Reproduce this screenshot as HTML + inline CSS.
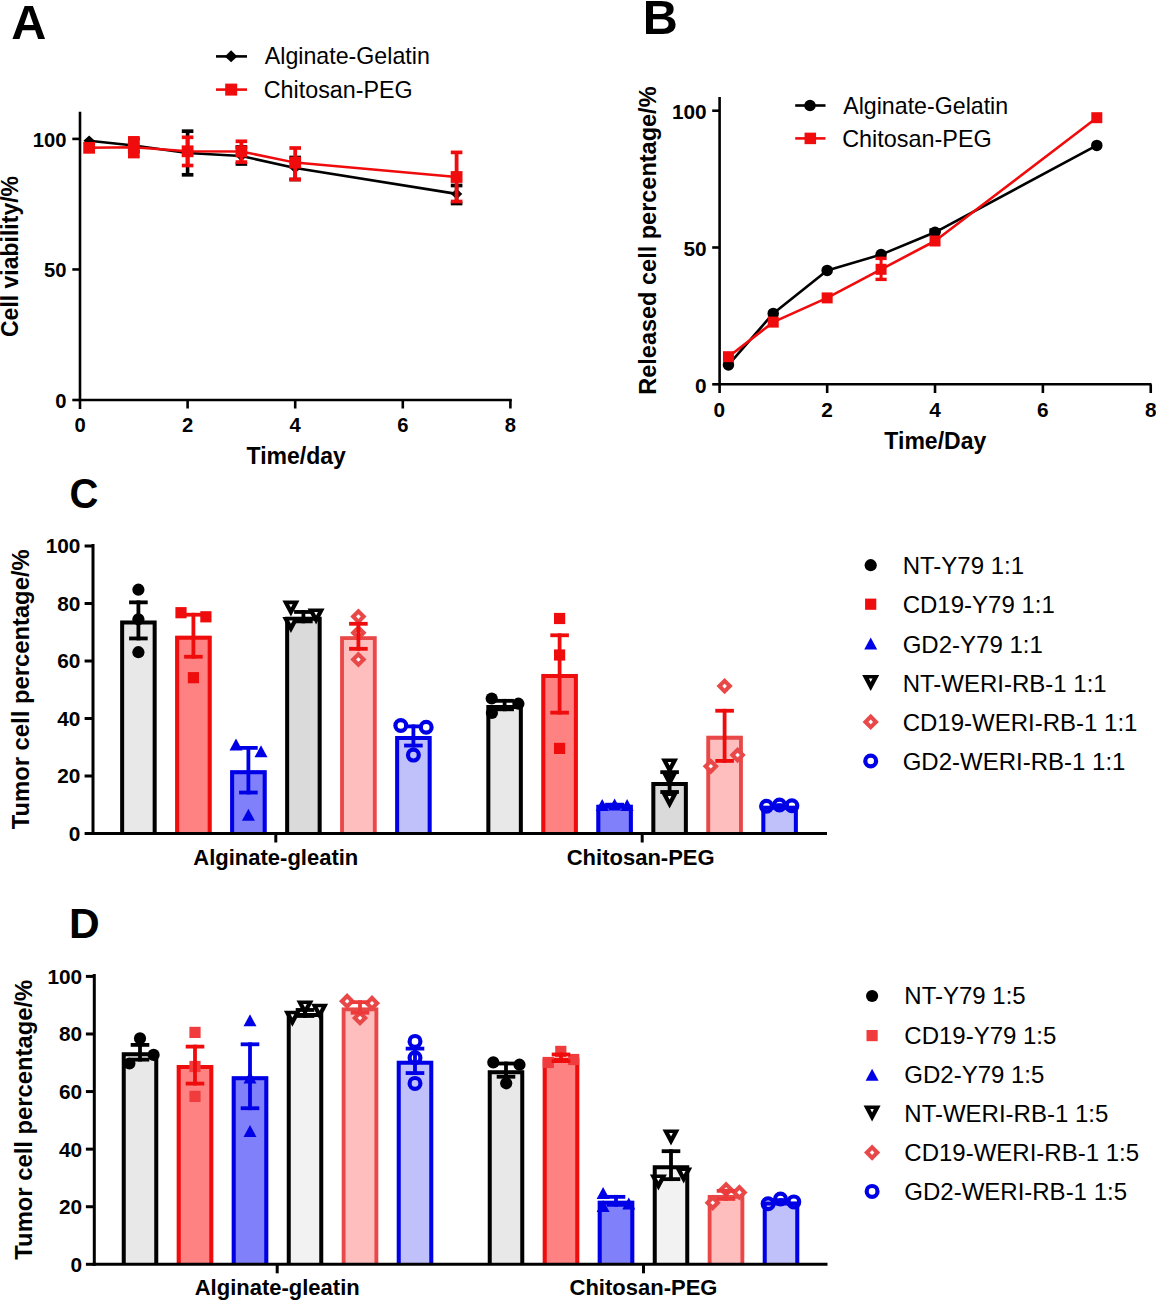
<!DOCTYPE html>
<html><head><meta charset="utf-8"><title>Figure</title>
<style>html,body{margin:0;padding:0;background:#fff;}svg{display:block;}text{font-family:"Liberation Sans",sans-serif;}</style>
</head><body>
<svg width="1156" height="1301" viewBox="0 0 1156 1301" font-family='"Liberation Sans", sans-serif'><text x="11.20" y="39.40" font-size="48.6" font-weight="bold" text-anchor="start" fill="#000">A</text>
<line x1="216.00" y1="56.40" x2="247.00" y2="56.40" stroke="#000" stroke-width="2.6" stroke-linecap="butt"/>
<polygon points="231.1,50.2 237.3,56.4 231.1,62.2 224.9,56.4" fill="#000"/>
<text x="264.80" y="64.30" font-size="23.2" font-weight="normal" text-anchor="start" fill="#000">Alginate-Gelatin</text>
<line x1="216.00" y1="89.60" x2="247.00" y2="89.60" stroke="#f00c0c" stroke-width="2.6" stroke-linecap="butt"/>
<rect x="225.20" y="83.60" width="12.00" height="12.00" fill="#f00c0c"/>
<text x="263.80" y="97.50" font-size="23.3" font-weight="normal" text-anchor="start" fill="#000">Chitosan-PEG</text>
<line x1="80.00" y1="111.80" x2="80.00" y2="409.00" stroke="#000" stroke-width="2.6" stroke-linecap="butt"/>
<line x1="78.70" y1="400.00" x2="511.80" y2="400.00" stroke="#000" stroke-width="2.6" stroke-linecap="butt"/>
<line x1="72.30" y1="400.00" x2="80.00" y2="400.00" stroke="#000" stroke-width="2.6" stroke-linecap="butt"/>
<text x="66.40" y="408.00" font-size="20.2" font-weight="bold" text-anchor="end" fill="#000">0</text>
<line x1="72.30" y1="269.45" x2="80.00" y2="269.45" stroke="#000" stroke-width="2.6" stroke-linecap="butt"/>
<text x="66.40" y="277.45" font-size="20.2" font-weight="bold" text-anchor="end" fill="#000">50</text>
<line x1="72.30" y1="138.90" x2="80.00" y2="138.90" stroke="#000" stroke-width="2.6" stroke-linecap="butt"/>
<text x="66.40" y="146.90" font-size="20.2" font-weight="bold" text-anchor="end" fill="#000">100</text>
<line x1="187.60" y1="400.00" x2="187.60" y2="408.50" stroke="#000" stroke-width="2.6" stroke-linecap="butt"/>
<line x1="295.20" y1="400.00" x2="295.20" y2="408.50" stroke="#000" stroke-width="2.6" stroke-linecap="butt"/>
<line x1="402.80" y1="400.00" x2="402.80" y2="408.50" stroke="#000" stroke-width="2.6" stroke-linecap="butt"/>
<line x1="510.40" y1="400.00" x2="510.40" y2="408.50" stroke="#000" stroke-width="2.6" stroke-linecap="butt"/>
<text x="80.00" y="432.30" font-size="20.2" font-weight="bold" text-anchor="middle" fill="#000">0</text>
<text x="187.60" y="432.30" font-size="20.2" font-weight="bold" text-anchor="middle" fill="#000">2</text>
<text x="295.20" y="432.30" font-size="20.2" font-weight="bold" text-anchor="middle" fill="#000">4</text>
<text x="402.80" y="432.30" font-size="20.2" font-weight="bold" text-anchor="middle" fill="#000">6</text>
<text x="510.40" y="432.30" font-size="20.2" font-weight="bold" text-anchor="middle" fill="#000">8</text>
<text x="296.20" y="464.00" font-size="23" font-weight="bold" text-anchor="middle" fill="#000">Time/day</text>
<text x="18.30" y="256.50" font-size="23" font-weight="bold" text-anchor="middle" fill="#000" transform="rotate(-90 18.3 256.5)">Cell viability/%</text>
<polyline points="89.15,140.70 133.80,145.50 187.60,153.00 241.40,156.00 295.20,168.00 456.60,193.90" fill="none" stroke="#000" stroke-width="2.6" stroke-linejoin="round"/>
<line x1="133.80" y1="139.00" x2="133.80" y2="152.00" stroke="#000" stroke-width="3.6" stroke-linecap="butt"/>
<line x1="128.00" y1="139.00" x2="139.60" y2="139.00" stroke="#000" stroke-width="3.7" stroke-linecap="butt"/>
<line x1="128.00" y1="152.00" x2="139.60" y2="152.00" stroke="#000" stroke-width="3.7" stroke-linecap="butt"/>
<line x1="187.60" y1="131.20" x2="187.60" y2="174.80" stroke="#000" stroke-width="3.6" stroke-linecap="butt"/>
<line x1="181.80" y1="131.20" x2="193.40" y2="131.20" stroke="#000" stroke-width="3.7" stroke-linecap="butt"/>
<line x1="181.80" y1="174.80" x2="193.40" y2="174.80" stroke="#000" stroke-width="3.7" stroke-linecap="butt"/>
<line x1="241.40" y1="147.00" x2="241.40" y2="164.00" stroke="#000" stroke-width="3.6" stroke-linecap="butt"/>
<line x1="235.60" y1="147.00" x2="247.20" y2="147.00" stroke="#000" stroke-width="3.7" stroke-linecap="butt"/>
<line x1="235.60" y1="164.00" x2="247.20" y2="164.00" stroke="#000" stroke-width="3.7" stroke-linecap="butt"/>
<line x1="295.20" y1="157.50" x2="295.20" y2="179.50" stroke="#000" stroke-width="3.6" stroke-linecap="butt"/>
<line x1="289.40" y1="157.50" x2="301.00" y2="157.50" stroke="#000" stroke-width="3.7" stroke-linecap="butt"/>
<line x1="289.40" y1="179.50" x2="301.00" y2="179.50" stroke="#000" stroke-width="3.7" stroke-linecap="butt"/>
<line x1="456.60" y1="185.50" x2="456.60" y2="203.50" stroke="#000" stroke-width="3.6" stroke-linecap="butt"/>
<line x1="450.80" y1="185.50" x2="462.40" y2="185.50" stroke="#000" stroke-width="3.7" stroke-linecap="butt"/>
<line x1="450.80" y1="203.50" x2="462.40" y2="203.50" stroke="#000" stroke-width="3.7" stroke-linecap="butt"/>
<polygon points="89.15,135.40 94.85,140.70 89.15,146.00 83.45,140.70" fill="#000"/>
<polygon points="133.80,140.20 139.50,145.50 133.80,150.80 128.10,145.50" fill="#000"/>
<polygon points="187.60,147.70 193.30,153.00 187.60,158.30 181.90,153.00" fill="#000"/>
<polygon points="241.40,150.70 247.10,156.00 241.40,161.30 235.70,156.00" fill="#000"/>
<polygon points="295.20,162.70 300.90,168.00 295.20,173.30 289.50,168.00" fill="#000"/>
<polygon points="456.60,188.60 462.30,193.90 456.60,199.20 450.90,193.90" fill="#000"/>
<polyline points="89.15,147.80 133.80,147.20 187.60,151.30 241.40,151.50 295.20,162.60 456.60,177.00" fill="none" stroke="#f00c0c" stroke-width="2.5" stroke-linejoin="round"/>
<line x1="133.80" y1="138.00" x2="133.80" y2="156.40" stroke="#f00c0c" stroke-width="3.8" stroke-linecap="butt"/>
<line x1="128.00" y1="138.00" x2="139.60" y2="138.00" stroke="#f00c0c" stroke-width="3.7" stroke-linecap="butt"/>
<line x1="128.00" y1="156.40" x2="139.60" y2="156.40" stroke="#f00c0c" stroke-width="3.7" stroke-linecap="butt"/>
<line x1="187.60" y1="137.30" x2="187.60" y2="165.50" stroke="#f00c0c" stroke-width="3.8" stroke-linecap="butt"/>
<line x1="181.80" y1="137.30" x2="193.40" y2="137.30" stroke="#f00c0c" stroke-width="3.7" stroke-linecap="butt"/>
<line x1="181.80" y1="165.50" x2="193.40" y2="165.50" stroke="#f00c0c" stroke-width="3.7" stroke-linecap="butt"/>
<line x1="241.40" y1="141.30" x2="241.40" y2="162.10" stroke="#f00c0c" stroke-width="3.8" stroke-linecap="butt"/>
<line x1="235.60" y1="141.30" x2="247.20" y2="141.30" stroke="#f00c0c" stroke-width="3.7" stroke-linecap="butt"/>
<line x1="235.60" y1="162.10" x2="247.20" y2="162.10" stroke="#f00c0c" stroke-width="3.7" stroke-linecap="butt"/>
<line x1="295.20" y1="148.00" x2="295.20" y2="179.50" stroke="#f00c0c" stroke-width="3.8" stroke-linecap="butt"/>
<line x1="289.40" y1="148.00" x2="301.00" y2="148.00" stroke="#f00c0c" stroke-width="3.7" stroke-linecap="butt"/>
<line x1="289.40" y1="179.50" x2="301.00" y2="179.50" stroke="#f00c0c" stroke-width="3.7" stroke-linecap="butt"/>
<line x1="456.60" y1="152.40" x2="456.60" y2="201.50" stroke="#f00c0c" stroke-width="3.8" stroke-linecap="butt"/>
<line x1="450.80" y1="152.40" x2="462.40" y2="152.40" stroke="#f00c0c" stroke-width="3.7" stroke-linecap="butt"/>
<line x1="450.80" y1="201.50" x2="462.40" y2="201.50" stroke="#f00c0c" stroke-width="3.7" stroke-linecap="butt"/>
<rect x="128.20" y="136.20" width="11.20" height="22.00" fill="#f00c0c"/>
<rect x="83.25" y="141.90" width="11.80" height="11.80" fill="#f00c0c"/>
<rect x="127.90" y="141.30" width="11.80" height="11.80" fill="#f00c0c"/>
<rect x="181.70" y="145.40" width="11.80" height="11.80" fill="#f00c0c"/>
<rect x="235.50" y="145.60" width="11.80" height="11.80" fill="#f00c0c"/>
<rect x="289.30" y="156.70" width="11.80" height="11.80" fill="#f00c0c"/>
<rect x="450.70" y="171.10" width="11.80" height="11.80" fill="#f00c0c"/>
<text x="642.80" y="34.30" font-size="48.5" font-weight="bold" text-anchor="start" fill="#000">B</text>
<line x1="795.20" y1="105.50" x2="825.50" y2="105.50" stroke="#000" stroke-width="2.6" stroke-linecap="butt"/>
<circle cx="810.00" cy="105.50" r="5.75" fill="#000"/>
<text x="843.20" y="113.90" font-size="23.2" font-weight="normal" text-anchor="start" fill="#000">Alginate-Gelatin</text>
<line x1="795.20" y1="138.40" x2="825.50" y2="138.40" stroke="#f00c0c" stroke-width="2.6" stroke-linecap="butt"/>
<rect x="804.55" y="132.65" width="11.50" height="11.50" fill="#f00c0c"/>
<text x="842.20" y="147.00" font-size="23.4" font-weight="normal" text-anchor="start" fill="#000">Chitosan-PEG</text>
<line x1="719.60" y1="96.90" x2="719.60" y2="393.00" stroke="#000" stroke-width="2.6" stroke-linecap="butt"/>
<line x1="718.30" y1="384.30" x2="1151.50" y2="384.30" stroke="#000" stroke-width="2.6" stroke-linecap="butt"/>
<line x1="712.20" y1="384.30" x2="719.60" y2="384.30" stroke="#000" stroke-width="2.6" stroke-linecap="butt"/>
<text x="706.60" y="392.50" font-size="20.8" font-weight="bold" text-anchor="end" fill="#000">0</text>
<line x1="712.20" y1="247.50" x2="719.60" y2="247.50" stroke="#000" stroke-width="2.6" stroke-linecap="butt"/>
<text x="706.60" y="255.70" font-size="20.8" font-weight="bold" text-anchor="end" fill="#000">50</text>
<line x1="712.20" y1="110.70" x2="719.60" y2="110.70" stroke="#000" stroke-width="2.6" stroke-linecap="butt"/>
<text x="706.60" y="118.90" font-size="20.8" font-weight="bold" text-anchor="end" fill="#000">100</text>
<line x1="827.16" y1="384.30" x2="827.16" y2="393.00" stroke="#000" stroke-width="2.6" stroke-linecap="butt"/>
<line x1="935.02" y1="384.30" x2="935.02" y2="393.00" stroke="#000" stroke-width="2.6" stroke-linecap="butt"/>
<line x1="1042.88" y1="384.30" x2="1042.88" y2="393.00" stroke="#000" stroke-width="2.6" stroke-linecap="butt"/>
<line x1="1150.74" y1="384.30" x2="1150.74" y2="393.00" stroke="#000" stroke-width="2.6" stroke-linecap="butt"/>
<text x="719.30" y="416.80" font-size="20.8" font-weight="bold" text-anchor="middle" fill="#000">0</text>
<text x="827.16" y="416.80" font-size="20.8" font-weight="bold" text-anchor="middle" fill="#000">2</text>
<text x="935.02" y="416.80" font-size="20.8" font-weight="bold" text-anchor="middle" fill="#000">4</text>
<text x="1042.88" y="416.80" font-size="20.8" font-weight="bold" text-anchor="middle" fill="#000">6</text>
<text x="1150.74" y="416.80" font-size="20.8" font-weight="bold" text-anchor="middle" fill="#000">8</text>
<text x="935.30" y="448.80" font-size="23" font-weight="bold" text-anchor="middle" fill="#000">Time/Day</text>
<text x="656.00" y="240.60" font-size="23.5" font-weight="bold" text-anchor="middle" fill="#000" transform="rotate(-90 656 240.6)">Released cell percentage/%</text>
<polyline points="728.47,364.90 773.23,313.40 827.16,270.40 881.09,254.60 935.02,232.30 1096.81,145.40" fill="none" stroke="#000" stroke-width="2.6" stroke-linejoin="round"/>
<line x1="935.02" y1="229.00" x2="935.02" y2="236.00" stroke="#000" stroke-width="3.6" stroke-linecap="butt"/>
<line x1="929.42" y1="230.20" x2="940.62" y2="230.20" stroke="#000" stroke-width="3.8" stroke-linecap="butt"/>
<circle cx="728.47" cy="364.90" r="5.75" fill="#000"/>
<circle cx="773.23" cy="313.40" r="5.75" fill="#000"/>
<circle cx="827.16" cy="270.40" r="5.75" fill="#000"/>
<circle cx="881.09" cy="254.60" r="5.75" fill="#000"/>
<circle cx="935.02" cy="232.30" r="5.75" fill="#000"/>
<circle cx="1096.81" cy="145.40" r="5.75" fill="#000"/>
<polyline points="728.47,356.70 773.23,322.10 827.16,297.90 881.09,269.30 935.02,241.00 1096.81,117.70" fill="none" stroke="#f00c0c" stroke-width="2.6" stroke-linejoin="round"/>
<line x1="881.09" y1="256.80" x2="881.09" y2="281.00" stroke="#f00c0c" stroke-width="3" stroke-linecap="butt"/>
<line x1="875.49" y1="258.40" x2="886.69" y2="258.40" stroke="#f00c0c" stroke-width="3.4" stroke-linecap="butt"/>
<line x1="875.49" y1="279.40" x2="886.69" y2="279.40" stroke="#f00c0c" stroke-width="3.4" stroke-linecap="butt"/>
<rect x="722.97" y="351.20" width="11.00" height="11.00" fill="#f00c0c"/>
<rect x="767.73" y="316.60" width="11.00" height="11.00" fill="#f00c0c"/>
<rect x="821.66" y="292.40" width="11.00" height="11.00" fill="#f00c0c"/>
<rect x="875.59" y="263.80" width="11.00" height="11.00" fill="#f00c0c"/>
<rect x="929.52" y="235.50" width="11.00" height="11.00" fill="#f00c0c"/>
<rect x="1091.31" y="112.20" width="11.00" height="11.00" fill="#f00c0c"/>
<text transform="translate(69.50 508.30) scale(1.0 1.075)" font-size="40" font-weight="bold" text-anchor="start" fill="#000">C</text>
<line x1="93.00" y1="544.00" x2="93.00" y2="835.00" stroke="#000" stroke-width="3" stroke-linecap="butt"/>
<line x1="84.60" y1="833.50" x2="93.00" y2="833.50" stroke="#000" stroke-width="3" stroke-linecap="butt"/>
<text x="80.40" y="840.90" font-size="20.8" font-weight="bold" text-anchor="end" fill="#000">0</text>
<line x1="84.60" y1="776.00" x2="93.00" y2="776.00" stroke="#000" stroke-width="3" stroke-linecap="butt"/>
<text x="80.40" y="783.40" font-size="20.8" font-weight="bold" text-anchor="end" fill="#000">20</text>
<line x1="84.60" y1="718.50" x2="93.00" y2="718.50" stroke="#000" stroke-width="3" stroke-linecap="butt"/>
<text x="80.40" y="725.90" font-size="20.8" font-weight="bold" text-anchor="end" fill="#000">40</text>
<line x1="84.60" y1="661.00" x2="93.00" y2="661.00" stroke="#000" stroke-width="3" stroke-linecap="butt"/>
<text x="80.40" y="668.40" font-size="20.8" font-weight="bold" text-anchor="end" fill="#000">60</text>
<line x1="84.60" y1="603.50" x2="93.00" y2="603.50" stroke="#000" stroke-width="3" stroke-linecap="butt"/>
<text x="80.40" y="610.90" font-size="20.8" font-weight="bold" text-anchor="end" fill="#000">80</text>
<line x1="84.60" y1="546.00" x2="93.00" y2="546.00" stroke="#000" stroke-width="3" stroke-linecap="butt"/>
<text x="80.40" y="553.40" font-size="20.8" font-weight="bold" text-anchor="end" fill="#000">100</text>
<line x1="275.80" y1="833.50" x2="275.80" y2="842.50" stroke="#000" stroke-width="3" stroke-linecap="butt"/>
<line x1="642.20" y1="833.50" x2="642.20" y2="842.50" stroke="#000" stroke-width="3" stroke-linecap="butt"/>
<text x="275.80" y="865.00" font-size="22" font-weight="bold" text-anchor="middle" fill="#000">Alginate-gleatin</text>
<text x="640.70" y="865.00" font-size="22" font-weight="bold" text-anchor="middle" fill="#000">Chitosan-PEG</text>
<text x="29.30" y="689.30" font-size="23.8" font-weight="bold" text-anchor="middle" fill="#000" transform="rotate(-90 29.3 689.3)">Tumor cell percentage/%</text>
<rect x="120.15" y="620.40" width="36.50" height="213.10" fill="#e8e8e8"/>
<path d="M122.15,833.50 V622.40 H154.65 V833.50" fill="none" stroke="#000" stroke-width="4" stroke-linejoin="miter"/>
<circle cx="138.40" cy="589.70" r="6.10" fill="#000"/>
<circle cx="138.40" cy="619.30" r="6.10" fill="#000"/>
<circle cx="138.40" cy="652.20" r="6.10" fill="#000"/>
<line x1="138.40" y1="600.45" x2="138.40" y2="640.35" stroke="#000" stroke-width="3.8" stroke-linecap="butt"/>
<line x1="129.10" y1="602.35" x2="147.70" y2="602.35" stroke="#000" stroke-width="3.8" stroke-linecap="butt"/>
<line x1="129.10" y1="638.45" x2="147.70" y2="638.45" stroke="#000" stroke-width="3.8" stroke-linecap="butt"/>
<rect x="175.15" y="635.73" width="36.50" height="197.77" fill="#ff8282"/>
<path d="M177.15,833.50 V637.73 H209.65 V833.50" fill="none" stroke="#ee0c0c" stroke-width="4" stroke-linejoin="miter"/>
<rect x="175.40" y="607.10" width="11.20" height="11.20" fill="#ee0c0c"/>
<rect x="200.30" y="611.20" width="11.20" height="11.20" fill="#ee0c0c"/>
<rect x="187.80" y="672.10" width="11.20" height="11.20" fill="#ee0c0c"/>
<line x1="193.40" y1="612.82" x2="193.40" y2="658.65" stroke="#ee0c0c" stroke-width="3.8" stroke-linecap="butt"/>
<line x1="184.10" y1="614.72" x2="202.70" y2="614.72" stroke="#ee0c0c" stroke-width="3.8" stroke-linecap="butt"/>
<line x1="184.10" y1="656.75" x2="202.70" y2="656.75" stroke="#ee0c0c" stroke-width="3.8" stroke-linecap="butt"/>
<rect x="230.15" y="770.20" width="36.50" height="63.30" fill="#8080fa"/>
<path d="M232.15,833.50 V772.20 H264.65 V833.50" fill="none" stroke="#0000e6" stroke-width="4" stroke-linejoin="miter"/>
<polygon points="229.50,750.60 242.50,750.60 236.00,738.60" fill="#0000e6"/>
<polygon points="254.50,757.30 267.50,757.30 261.00,745.30" fill="#0000e6"/>
<polygon points="241.90,820.70 254.90,820.70 248.40,808.70" fill="#0000e6"/>
<line x1="248.40" y1="745.97" x2="248.40" y2="794.43" stroke="#0000e6" stroke-width="3.8" stroke-linecap="butt"/>
<line x1="239.10" y1="747.87" x2="257.70" y2="747.87" stroke="#0000e6" stroke-width="3.8" stroke-linecap="butt"/>
<line x1="239.10" y1="792.53" x2="257.70" y2="792.53" stroke="#0000e6" stroke-width="3.8" stroke-linecap="butt"/>
<rect x="285.15" y="616.67" width="36.50" height="216.83" fill="#dadada"/>
<path d="M287.15,833.50 V618.67 H319.65 V833.50" fill="none" stroke="#000" stroke-width="4" stroke-linejoin="miter"/>
<polygon points="282.40,600.60 299.40,600.60 290.90,616.60" fill="#000"/>
<polygon points="289.10,604.14 292.70,604.14 290.90,607.56" fill="#fff"/>
<polygon points="307.60,608.50 324.60,608.50 316.10,624.50" fill="#000"/>
<polygon points="314.30,612.04 317.90,612.04 316.10,615.46" fill="#fff"/>
<polygon points="282.40,616.90 299.40,616.90 290.90,632.90" fill="#000"/>
<polygon points="289.10,620.44 292.70,620.44 290.90,623.86" fill="#fff"/>
<line x1="303.40" y1="610.06" x2="303.40" y2="623.27" stroke="#000" stroke-width="3.8" stroke-linecap="butt"/>
<line x1="294.10" y1="611.96" x2="312.70" y2="611.96" stroke="#000" stroke-width="3.8" stroke-linecap="butt"/>
<line x1="294.10" y1="621.37" x2="312.70" y2="621.37" stroke="#000" stroke-width="3.8" stroke-linecap="butt"/>
<rect x="340.15" y="636.30" width="36.50" height="197.20" fill="#ffbebe"/>
<path d="M342.05,833.50 V638.20 H374.75 V833.50" fill="none" stroke="#e84848" stroke-width="3.8" stroke-linejoin="miter"/>
<polygon points="358.40,608.50 366.50,616.60 358.40,624.70 350.30,616.60" fill="#e84848"/>
<polygon points="358.40,614.30 360.70,616.60 358.40,618.90 356.10,616.60" fill="#fff"/>
<polygon points="358.40,624.70 366.50,632.80 358.40,640.90 350.30,632.80" fill="#e84848"/>
<polygon points="358.40,630.50 360.70,632.80 358.40,635.10 356.10,632.80" fill="#fff"/>
<polygon points="358.40,651.40 366.50,659.50 358.40,667.60 350.30,659.50" fill="#e84848"/>
<polygon points="358.40,657.20 360.70,659.50 358.40,661.80 356.10,659.50" fill="#fff"/>
<line x1="358.40" y1="621.89" x2="358.40" y2="650.71" stroke="#ee0c0c" stroke-width="3.8" stroke-linecap="butt"/>
<line x1="349.10" y1="623.79" x2="367.70" y2="623.79" stroke="#ee0c0c" stroke-width="3.8" stroke-linecap="butt"/>
<line x1="349.10" y1="648.81" x2="367.70" y2="648.81" stroke="#ee0c0c" stroke-width="3.8" stroke-linecap="butt"/>
<rect x="395.15" y="735.97" width="36.50" height="97.53" fill="#c0c0fa"/>
<path d="M397.15,833.50 V737.97 H429.65 V833.50" fill="none" stroke="#0000e6" stroke-width="4" stroke-linejoin="miter"/>
<circle cx="400.80" cy="725.50" r="5.40" fill="none" stroke="#0000e6" stroke-width="4.2"/>
<circle cx="426.20" cy="727.30" r="5.40" fill="none" stroke="#0000e6" stroke-width="4.2"/>
<circle cx="413.40" cy="755.10" r="5.40" fill="none" stroke="#0000e6" stroke-width="4.2"/>
<line x1="413.40" y1="724.49" x2="413.40" y2="747.45" stroke="#0000e6" stroke-width="3.8" stroke-linecap="butt"/>
<line x1="404.10" y1="726.39" x2="422.70" y2="726.39" stroke="#0000e6" stroke-width="3.8" stroke-linecap="butt"/>
<line x1="404.10" y1="745.55" x2="422.70" y2="745.55" stroke="#0000e6" stroke-width="3.8" stroke-linecap="butt"/>
<rect x="486.35" y="705.07" width="36.50" height="128.43" fill="#e8e8e8"/>
<path d="M488.35,833.50 V707.07 H520.85 V833.50" fill="none" stroke="#000" stroke-width="4" stroke-linejoin="miter"/>
<circle cx="491.70" cy="698.50" r="6.10" fill="#000"/>
<circle cx="518.40" cy="703.70" r="6.10" fill="#000"/>
<circle cx="491.90" cy="713.00" r="6.10" fill="#000"/>
<line x1="504.60" y1="698.93" x2="504.60" y2="711.21" stroke="#000" stroke-width="3.8" stroke-linecap="butt"/>
<line x1="495.30" y1="700.83" x2="513.90" y2="700.83" stroke="#000" stroke-width="3.8" stroke-linecap="butt"/>
<line x1="495.30" y1="709.31" x2="513.90" y2="709.31" stroke="#000" stroke-width="3.8" stroke-linecap="butt"/>
<rect x="541.35" y="673.97" width="36.50" height="159.53" fill="#ff8282"/>
<path d="M543.35,833.50 V675.97 H575.85 V833.50" fill="none" stroke="#ee0c0c" stroke-width="4" stroke-linejoin="miter"/>
<rect x="554.00" y="612.90" width="11.20" height="11.20" fill="#ee0c0c"/>
<rect x="554.00" y="649.40" width="11.20" height="11.20" fill="#ee0c0c"/>
<rect x="554.00" y="742.80" width="11.20" height="11.20" fill="#ee0c0c"/>
<line x1="559.60" y1="633.39" x2="559.60" y2="714.55" stroke="#ee0c0c" stroke-width="3.8" stroke-linecap="butt"/>
<line x1="550.30" y1="635.29" x2="568.90" y2="635.29" stroke="#ee0c0c" stroke-width="3.8" stroke-linecap="butt"/>
<line x1="550.30" y1="712.65" x2="568.90" y2="712.65" stroke="#ee0c0c" stroke-width="3.8" stroke-linecap="butt"/>
<rect x="596.35" y="804.83" width="36.50" height="28.67" fill="#8080fa"/>
<path d="M598.35,833.50 V806.83 H630.85 V833.50" fill="none" stroke="#0000e6" stroke-width="4" stroke-linejoin="miter"/>
<polygon points="595.70,811.00 608.70,811.00 602.20,799.00" fill="#0000e6"/>
<polygon points="608.10,810.50 621.10,810.50 614.60,798.50" fill="#0000e6"/>
<polygon points="620.60,811.00 633.60,811.00 627.10,799.00" fill="#0000e6"/>
<line x1="614.60" y1="802.77" x2="614.60" y2="806.90" stroke="#0000e6" stroke-width="3.8" stroke-linecap="butt"/>
<line x1="605.30" y1="804.67" x2="623.90" y2="804.67" stroke="#0000e6" stroke-width="3.8" stroke-linecap="butt"/>
<line x1="605.30" y1="805.00" x2="623.90" y2="805.00" stroke="#0000e6" stroke-width="3.8" stroke-linecap="butt"/>
<rect x="651.35" y="782.07" width="36.50" height="51.43" fill="#dadada"/>
<path d="M653.35,833.50 V784.07 H685.85 V833.50" fill="none" stroke="#000" stroke-width="4" stroke-linejoin="miter"/>
<polygon points="661.10,758.50 678.10,758.50 669.60,774.50" fill="#000"/>
<polygon points="667.80,762.04 671.40,762.04 669.60,765.46" fill="#fff"/>
<polygon points="661.10,771.20 678.10,771.20 669.60,787.20" fill="#000"/>
<polygon points="667.80,774.74 671.40,774.74 669.60,778.16" fill="#fff"/>
<polygon points="661.10,792.50 678.10,792.50 669.60,808.50" fill="#000"/>
<polygon points="667.80,796.04 671.40,796.04 669.60,799.46" fill="#fff"/>
<line x1="669.60" y1="770.25" x2="669.60" y2="793.89" stroke="#000" stroke-width="3.8" stroke-linecap="butt"/>
<line x1="660.30" y1="772.15" x2="678.90" y2="772.15" stroke="#000" stroke-width="3.8" stroke-linecap="butt"/>
<line x1="660.30" y1="791.99" x2="678.90" y2="791.99" stroke="#000" stroke-width="3.8" stroke-linecap="butt"/>
<rect x="706.35" y="735.83" width="36.50" height="97.67" fill="#ffbebe"/>
<path d="M708.25,833.50 V737.73 H740.95 V833.50" fill="none" stroke="#e84848" stroke-width="3.8" stroke-linejoin="miter"/>
<polygon points="724.60,678.00 732.70,686.10 724.60,694.20 716.50,686.10" fill="#e84848"/>
<polygon points="724.60,683.80 726.90,686.10 724.60,688.40 722.30,686.10" fill="#fff"/>
<polygon points="710.80,758.20 718.90,766.30 710.80,774.40 702.70,766.30" fill="#e84848"/>
<polygon points="710.80,764.00 713.10,766.30 710.80,768.60 708.50,766.30" fill="#fff"/>
<polygon points="737.60,747.00 745.70,755.10 737.60,763.20 729.50,755.10" fill="#e84848"/>
<polygon points="737.60,752.80 739.90,755.10 737.60,757.40 735.30,755.10" fill="#fff"/>
<line x1="724.60" y1="708.86" x2="724.60" y2="762.81" stroke="#ee0c0c" stroke-width="3.8" stroke-linecap="butt"/>
<line x1="715.30" y1="710.76" x2="733.90" y2="710.76" stroke="#ee0c0c" stroke-width="3.8" stroke-linecap="butt"/>
<line x1="715.30" y1="760.91" x2="733.90" y2="760.91" stroke="#ee0c0c" stroke-width="3.8" stroke-linecap="butt"/>
<rect x="761.35" y="805.70" width="36.50" height="27.80" fill="#c0c0fa"/>
<path d="M763.35,833.50 V807.70 H795.85 V833.50" fill="none" stroke="#0000e6" stroke-width="4" stroke-linejoin="miter"/>
<circle cx="766.50" cy="806.30" r="5.40" fill="none" stroke="#0000e6" stroke-width="4.2"/>
<circle cx="779.50" cy="805.00" r="5.40" fill="none" stroke="#0000e6" stroke-width="4.2"/>
<circle cx="791.90" cy="805.80" r="5.40" fill="none" stroke="#0000e6" stroke-width="4.2"/>
<line x1="779.60" y1="803.42" x2="779.60" y2="807.98" stroke="#0000e6" stroke-width="3.8" stroke-linecap="butt"/>
<line x1="770.30" y1="805.32" x2="788.90" y2="805.32" stroke="#0000e6" stroke-width="3.8" stroke-linecap="butt"/>
<line x1="770.30" y1="806.08" x2="788.90" y2="806.08" stroke="#0000e6" stroke-width="3.8" stroke-linecap="butt"/>
<line x1="91.50" y1="833.50" x2="827.00" y2="833.50" stroke="#000" stroke-width="3" stroke-linecap="butt"/>
<circle cx="870.70" cy="565.20" r="6.10" fill="#000"/>
<text x="902.70" y="574.30" font-size="24" font-weight="normal" text-anchor="start" fill="#000">NT-Y79 1:1</text>
<rect x="865.10" y="598.60" width="11.20" height="11.20" fill="#ee0c0c"/>
<text x="902.70" y="613.30" font-size="24" font-weight="normal" text-anchor="start" fill="#000">CD19-Y79 1:1</text>
<polygon points="864.20,649.40 877.20,649.40 870.70,637.40" fill="#0000e6"/>
<text x="902.70" y="652.50" font-size="24" font-weight="normal" text-anchor="start" fill="#000">GD2-Y79 1:1</text>
<polygon points="862.20,675.00 879.20,675.00 870.70,691.00" fill="#000"/>
<polygon points="868.90,678.54 872.50,678.54 870.70,681.96" fill="#fff"/>
<text x="902.70" y="692.10" font-size="24" font-weight="normal" text-anchor="start" fill="#000">NT-WERI-RB-1 1:1</text>
<polygon points="870.70,713.80 878.80,721.90 870.70,730.00 862.60,721.90" fill="#e84848"/>
<polygon points="870.70,719.60 873.00,721.90 870.70,724.20 868.40,721.90" fill="#fff"/>
<text x="902.70" y="731.00" font-size="24" font-weight="normal" text-anchor="start" fill="#000">CD19-WERI-RB-1 1:1</text>
<circle cx="870.70" cy="761.00" r="5.40" fill="none" stroke="#0000e6" stroke-width="4.2"/>
<text x="902.70" y="770.10" font-size="24" font-weight="normal" text-anchor="start" fill="#000">GD2-WERI-RB-1 1:1</text>
<text transform="translate(69.00 937.60) scale(1.0 1.0)" font-size="42.5" font-weight="bold" text-anchor="start" fill="#000">D</text>
<line x1="94.30" y1="974.00" x2="94.30" y2="1265.80" stroke="#000" stroke-width="3" stroke-linecap="butt"/>
<line x1="85.90" y1="1264.30" x2="94.30" y2="1264.30" stroke="#000" stroke-width="3" stroke-linecap="butt"/>
<text x="82.20" y="1271.70" font-size="20.8" font-weight="bold" text-anchor="end" fill="#000">0</text>
<line x1="85.90" y1="1206.72" x2="94.30" y2="1206.72" stroke="#000" stroke-width="3" stroke-linecap="butt"/>
<text x="82.20" y="1214.12" font-size="20.8" font-weight="bold" text-anchor="end" fill="#000">20</text>
<line x1="85.90" y1="1149.14" x2="94.30" y2="1149.14" stroke="#000" stroke-width="3" stroke-linecap="butt"/>
<text x="82.20" y="1156.54" font-size="20.8" font-weight="bold" text-anchor="end" fill="#000">40</text>
<line x1="85.90" y1="1091.56" x2="94.30" y2="1091.56" stroke="#000" stroke-width="3" stroke-linecap="butt"/>
<text x="82.20" y="1098.96" font-size="20.8" font-weight="bold" text-anchor="end" fill="#000">60</text>
<line x1="85.90" y1="1033.98" x2="94.30" y2="1033.98" stroke="#000" stroke-width="3" stroke-linecap="butt"/>
<text x="82.20" y="1041.38" font-size="20.8" font-weight="bold" text-anchor="end" fill="#000">80</text>
<line x1="85.90" y1="976.40" x2="94.30" y2="976.40" stroke="#000" stroke-width="3" stroke-linecap="butt"/>
<text x="82.20" y="983.80" font-size="20.8" font-weight="bold" text-anchor="end" fill="#000">100</text>
<line x1="277.20" y1="1264.30" x2="277.20" y2="1273.30" stroke="#000" stroke-width="3" stroke-linecap="butt"/>
<line x1="643.50" y1="1264.30" x2="643.50" y2="1273.30" stroke="#000" stroke-width="3" stroke-linecap="butt"/>
<text x="277.20" y="1294.80" font-size="22" font-weight="bold" text-anchor="middle" fill="#000">Alginate-gleatin</text>
<text x="643.50" y="1294.80" font-size="22" font-weight="bold" text-anchor="middle" fill="#000">Chitosan-PEG</text>
<text x="31.90" y="1119.70" font-size="23.8" font-weight="bold" text-anchor="middle" fill="#000" transform="rotate(-90 31.9 1119.7)">Tumor cell percentage/%</text>
<rect x="121.75" y="1052.27" width="36.50" height="212.03" fill="#e8e8e8"/>
<path d="M123.75,1264.30 V1054.27 H156.25 V1264.30" fill="none" stroke="#000" stroke-width="4" stroke-linejoin="miter"/>
<circle cx="140.00" cy="1038.40" r="6.10" fill="#000"/>
<circle cx="153.60" cy="1054.90" r="6.10" fill="#000"/>
<circle cx="129.40" cy="1063.50" r="6.10" fill="#000"/>
<line x1="140.00" y1="1043.00" x2="140.00" y2="1061.53" stroke="#000" stroke-width="3.8" stroke-linecap="butt"/>
<line x1="130.70" y1="1044.90" x2="149.30" y2="1044.90" stroke="#000" stroke-width="3.8" stroke-linecap="butt"/>
<line x1="130.70" y1="1059.63" x2="149.30" y2="1059.63" stroke="#000" stroke-width="3.8" stroke-linecap="butt"/>
<rect x="176.75" y="1065.10" width="36.50" height="199.20" fill="#ff8282"/>
<path d="M178.75,1264.30 V1067.10 H211.25 V1264.30" fill="none" stroke="#ee0c0c" stroke-width="4" stroke-linejoin="miter"/>
<rect x="189.40" y="1026.80" width="11.20" height="11.20" fill="#f03c3c"/>
<rect x="189.40" y="1060.90" width="11.20" height="11.20" fill="#f03c3c"/>
<rect x="189.40" y="1090.80" width="11.20" height="11.20" fill="#f03c3c"/>
<line x1="195.00" y1="1044.71" x2="195.00" y2="1085.49" stroke="#ee0c0c" stroke-width="3.8" stroke-linecap="butt"/>
<line x1="185.70" y1="1046.61" x2="204.30" y2="1046.61" stroke="#ee0c0c" stroke-width="3.8" stroke-linecap="butt"/>
<line x1="185.70" y1="1083.59" x2="204.30" y2="1083.59" stroke="#ee0c0c" stroke-width="3.8" stroke-linecap="butt"/>
<rect x="231.75" y="1076.27" width="36.50" height="188.03" fill="#8080fa"/>
<path d="M233.75,1264.30 V1078.27 H266.25 V1264.30" fill="none" stroke="#0000e6" stroke-width="4" stroke-linejoin="miter"/>
<polygon points="243.50,1026.30 256.50,1026.30 250.00,1014.30" fill="#0000e6"/>
<polygon points="243.50,1083.50 256.50,1083.50 250.00,1071.50" fill="#0000e6"/>
<polygon points="243.50,1137.00 256.50,1137.00 250.00,1125.00" fill="#0000e6"/>
<line x1="250.00" y1="1042.40" x2="250.00" y2="1110.13" stroke="#0000e6" stroke-width="3.8" stroke-linecap="butt"/>
<line x1="240.70" y1="1044.30" x2="259.30" y2="1044.30" stroke="#0000e6" stroke-width="3.8" stroke-linecap="butt"/>
<line x1="240.70" y1="1108.23" x2="259.30" y2="1108.23" stroke="#0000e6" stroke-width="3.8" stroke-linecap="butt"/>
<rect x="286.75" y="1012.97" width="36.50" height="251.33" fill="#f2f2f2"/>
<path d="M288.75,1264.30 V1014.97 H321.25 V1264.30" fill="none" stroke="#000" stroke-width="4" stroke-linejoin="miter"/>
<polygon points="283.90,1010.70 300.90,1010.70 292.40,1026.70" fill="#000"/>
<polygon points="290.60,1014.24 294.20,1014.24 292.40,1017.66" fill="#fff"/>
<polygon points="296.50,1000.50 313.50,1000.50 305.00,1016.50" fill="#000"/>
<polygon points="303.20,1004.04 306.80,1004.04 305.00,1007.46" fill="#fff"/>
<polygon points="311.10,1003.70 328.10,1003.70 319.60,1019.70" fill="#000"/>
<polygon points="317.80,1007.24 321.40,1007.24 319.60,1010.66" fill="#fff"/>
<line x1="305.00" y1="1008.05" x2="305.00" y2="1017.88" stroke="#000" stroke-width="3.8" stroke-linecap="butt"/>
<line x1="295.70" y1="1009.95" x2="314.30" y2="1009.95" stroke="#000" stroke-width="3.8" stroke-linecap="butt"/>
<line x1="295.70" y1="1015.98" x2="314.30" y2="1015.98" stroke="#000" stroke-width="3.8" stroke-linecap="butt"/>
<rect x="341.75" y="1007.47" width="36.50" height="256.83" fill="#ffbebe"/>
<path d="M343.65,1264.30 V1009.37 H376.35 V1264.30" fill="none" stroke="#e84848" stroke-width="3.8" stroke-linejoin="miter"/>
<polygon points="347.10,993.10 355.20,1001.20 347.10,1009.30 339.00,1001.20" fill="#e84848"/>
<polygon points="347.10,998.90 349.40,1001.20 347.10,1003.50 344.80,1001.20" fill="#fff"/>
<polygon points="372.00,995.10 380.10,1003.20 372.00,1011.30 363.90,1003.20" fill="#e84848"/>
<polygon points="372.00,1000.90 374.30,1003.20 372.00,1005.50 369.70,1003.20" fill="#fff"/>
<polygon points="360.00,1009.90 368.10,1018.00 360.00,1026.10 351.90,1018.00" fill="#e84848"/>
<polygon points="360.00,1015.70 362.30,1018.00 360.00,1020.30 357.70,1018.00" fill="#fff"/>
<line x1="360.00" y1="1000.27" x2="360.00" y2="1014.66" stroke="#ec3a3a" stroke-width="3.8" stroke-linecap="butt"/>
<line x1="350.70" y1="1002.17" x2="369.30" y2="1002.17" stroke="#ec3a3a" stroke-width="3.8" stroke-linecap="butt"/>
<line x1="350.70" y1="1012.76" x2="369.30" y2="1012.76" stroke="#ec3a3a" stroke-width="3.8" stroke-linecap="butt"/>
<rect x="396.75" y="1060.83" width="36.50" height="203.47" fill="#c0c0fa"/>
<path d="M398.75,1264.30 V1062.83 H431.25 V1264.30" fill="none" stroke="#0000e6" stroke-width="4" stroke-linejoin="miter"/>
<circle cx="415.00" cy="1041.40" r="5.40" fill="none" stroke="#0000e6" stroke-width="4.2"/>
<circle cx="415.00" cy="1057.70" r="5.40" fill="none" stroke="#0000e6" stroke-width="4.2"/>
<circle cx="415.00" cy="1083.40" r="5.40" fill="none" stroke="#0000e6" stroke-width="4.2"/>
<line x1="415.00" y1="1046.71" x2="415.00" y2="1074.96" stroke="#0000e6" stroke-width="3.8" stroke-linecap="butt"/>
<line x1="405.70" y1="1048.61" x2="424.30" y2="1048.61" stroke="#0000e6" stroke-width="3.8" stroke-linecap="butt"/>
<line x1="405.70" y1="1073.06" x2="424.30" y2="1073.06" stroke="#0000e6" stroke-width="3.8" stroke-linecap="butt"/>
<rect x="487.75" y="1070.13" width="36.50" height="194.17" fill="#e8e8e8"/>
<path d="M489.75,1264.30 V1072.13 H522.25 V1264.30" fill="none" stroke="#000" stroke-width="4" stroke-linejoin="miter"/>
<circle cx="493.30" cy="1062.40" r="6.10" fill="#000"/>
<circle cx="519.50" cy="1064.70" r="6.10" fill="#000"/>
<circle cx="506.20" cy="1083.30" r="6.10" fill="#000"/>
<line x1="506.00" y1="1061.62" x2="506.00" y2="1078.65" stroke="#000" stroke-width="3.8" stroke-linecap="butt"/>
<line x1="496.70" y1="1063.52" x2="515.30" y2="1063.52" stroke="#000" stroke-width="3.8" stroke-linecap="butt"/>
<line x1="496.70" y1="1076.75" x2="515.30" y2="1076.75" stroke="#000" stroke-width="3.8" stroke-linecap="butt"/>
<rect x="542.75" y="1057.80" width="36.50" height="206.50" fill="#ff8282"/>
<path d="M544.75,1264.30 V1059.80 H577.25 V1264.30" fill="none" stroke="#ee0c0c" stroke-width="4" stroke-linejoin="miter"/>
<rect x="542.70" y="1056.90" width="11.20" height="11.20" fill="#f03c3c"/>
<rect x="568.10" y="1053.90" width="11.20" height="11.20" fill="#f03c3c"/>
<rect x="555.20" y="1045.80" width="11.20" height="11.20" fill="#f03c3c"/>
<line x1="561.00" y1="1052.58" x2="561.00" y2="1063.02" stroke="#ee0c0c" stroke-width="3.8" stroke-linecap="butt"/>
<line x1="551.70" y1="1054.48" x2="570.30" y2="1054.48" stroke="#ee0c0c" stroke-width="3.8" stroke-linecap="butt"/>
<line x1="551.70" y1="1061.12" x2="570.30" y2="1061.12" stroke="#ee0c0c" stroke-width="3.8" stroke-linecap="butt"/>
<rect x="597.75" y="1200.83" width="36.50" height="63.47" fill="#8080fa"/>
<path d="M599.75,1264.30 V1202.83 H632.25 V1264.30" fill="none" stroke="#0000e6" stroke-width="4" stroke-linejoin="miter"/>
<polygon points="596.60,1199.00 609.60,1199.00 603.10,1187.00" fill="#0000e6"/>
<polygon points="622.30,1209.50 635.30,1209.50 628.80,1197.50" fill="#0000e6"/>
<polygon points="596.60,1212.00 609.60,1212.00 603.10,1200.00" fill="#0000e6"/>
<line x1="616.00" y1="1194.95" x2="616.00" y2="1206.72" stroke="#0000e6" stroke-width="3.8" stroke-linecap="butt"/>
<line x1="606.70" y1="1196.85" x2="625.30" y2="1196.85" stroke="#0000e6" stroke-width="3.8" stroke-linecap="butt"/>
<line x1="606.70" y1="1204.82" x2="625.30" y2="1204.82" stroke="#0000e6" stroke-width="3.8" stroke-linecap="butt"/>
<rect x="652.75" y="1165.17" width="36.50" height="99.13" fill="#f2f2f2"/>
<path d="M654.75,1264.30 V1167.17 H687.25 V1264.30" fill="none" stroke="#000" stroke-width="4" stroke-linejoin="miter"/>
<polygon points="662.50,1129.50 679.50,1129.50 671.00,1145.50" fill="#000"/>
<polygon points="669.20,1133.04 672.80,1133.04 671.00,1136.46" fill="#fff"/>
<polygon points="649.90,1174.50 666.90,1174.50 658.40,1190.50" fill="#000"/>
<polygon points="656.60,1178.04 660.20,1178.04 658.40,1181.46" fill="#fff"/>
<polygon points="675.20,1167.50 692.20,1167.50 683.70,1183.50" fill="#000"/>
<polygon points="681.90,1171.04 685.50,1171.04 683.70,1174.46" fill="#fff"/>
<line x1="671.00" y1="1149.29" x2="671.00" y2="1181.05" stroke="#000" stroke-width="3.8" stroke-linecap="butt"/>
<line x1="661.70" y1="1151.19" x2="680.30" y2="1151.19" stroke="#000" stroke-width="3.8" stroke-linecap="butt"/>
<line x1="661.70" y1="1179.15" x2="680.30" y2="1179.15" stroke="#000" stroke-width="3.8" stroke-linecap="butt"/>
<rect x="707.75" y="1194.90" width="36.50" height="69.40" fill="#ffbebe"/>
<path d="M709.65,1264.30 V1196.80 H742.35 V1264.30" fill="none" stroke="#e84848" stroke-width="3.8" stroke-linejoin="miter"/>
<polygon points="712.70,1194.70 720.80,1202.80 712.70,1210.90 704.60,1202.80" fill="#e84848"/>
<polygon points="712.70,1200.50 715.00,1202.80 712.70,1205.10 710.40,1202.80" fill="#fff"/>
<polygon points="726.10,1181.40 734.20,1189.50 726.10,1197.60 718.00,1189.50" fill="#e84848"/>
<polygon points="726.10,1187.20 728.40,1189.50 726.10,1191.80 723.80,1189.50" fill="#fff"/>
<polygon points="739.40,1184.30 747.50,1192.40 739.40,1200.50 731.30,1192.40" fill="#e84848"/>
<polygon points="739.40,1190.10 741.70,1192.40 739.40,1194.70 737.10,1192.40" fill="#fff"/>
<line x1="726.00" y1="1188.96" x2="726.00" y2="1200.84" stroke="#ec3a3a" stroke-width="3.8" stroke-linecap="butt"/>
<line x1="716.70" y1="1190.86" x2="735.30" y2="1190.86" stroke="#ec3a3a" stroke-width="3.8" stroke-linecap="butt"/>
<line x1="716.70" y1="1198.94" x2="735.30" y2="1198.94" stroke="#ec3a3a" stroke-width="3.8" stroke-linecap="butt"/>
<rect x="762.75" y="1201.57" width="36.50" height="62.73" fill="#c0c0fa"/>
<path d="M764.75,1264.30 V1203.57 H797.25 V1264.30" fill="none" stroke="#0000e6" stroke-width="4" stroke-linejoin="miter"/>
<circle cx="768.10" cy="1203.80" r="5.40" fill="none" stroke="#0000e6" stroke-width="4.2"/>
<circle cx="780.50" cy="1199.00" r="5.40" fill="none" stroke="#0000e6" stroke-width="4.2"/>
<circle cx="793.80" cy="1201.90" r="5.40" fill="none" stroke="#0000e6" stroke-width="4.2"/>
<line x1="781.00" y1="1198.27" x2="781.00" y2="1204.86" stroke="#0000e6" stroke-width="3.8" stroke-linecap="butt"/>
<line x1="771.70" y1="1200.17" x2="790.30" y2="1200.17" stroke="#0000e6" stroke-width="3.8" stroke-linecap="butt"/>
<line x1="771.70" y1="1202.96" x2="790.30" y2="1202.96" stroke="#0000e6" stroke-width="3.8" stroke-linecap="butt"/>
<line x1="92.80" y1="1264.30" x2="827.50" y2="1264.30" stroke="#000" stroke-width="3" stroke-linecap="butt"/>
<circle cx="872.10" cy="996.00" r="6.10" fill="#000"/>
<text x="904.30" y="1004.40" font-size="24" font-weight="normal" text-anchor="start" fill="#000">NT-Y79 1:5</text>
<rect x="866.50" y="1030.00" width="11.20" height="11.20" fill="#f03c3c"/>
<text x="904.30" y="1044.00" font-size="24" font-weight="normal" text-anchor="start" fill="#000">CD19-Y79 1:5</text>
<polygon points="865.60,1080.70 878.60,1080.70 872.10,1068.70" fill="#0000e6"/>
<text x="904.30" y="1083.10" font-size="24" font-weight="normal" text-anchor="start" fill="#000">GD2-Y79 1:5</text>
<polygon points="863.60,1105.50 880.60,1105.50 872.10,1121.50" fill="#000"/>
<polygon points="870.30,1109.04 873.90,1109.04 872.10,1112.46" fill="#fff"/>
<text x="904.30" y="1121.90" font-size="24" font-weight="normal" text-anchor="start" fill="#000">NT-WERI-RB-1 1:5</text>
<polygon points="872.10,1144.50 880.20,1152.60 872.10,1160.70 864.00,1152.60" fill="#e84848"/>
<polygon points="872.10,1150.30 874.40,1152.60 872.10,1154.90 869.80,1152.60" fill="#fff"/>
<text x="904.30" y="1161.00" font-size="24" font-weight="normal" text-anchor="start" fill="#000">CD19-WERI-RB-1 1:5</text>
<circle cx="872.10" cy="1191.40" r="5.40" fill="none" stroke="#0000e6" stroke-width="4.2"/>
<text x="904.30" y="1199.80" font-size="24" font-weight="normal" text-anchor="start" fill="#000">GD2-WERI-RB-1 1:5</text></svg>
</body></html>
